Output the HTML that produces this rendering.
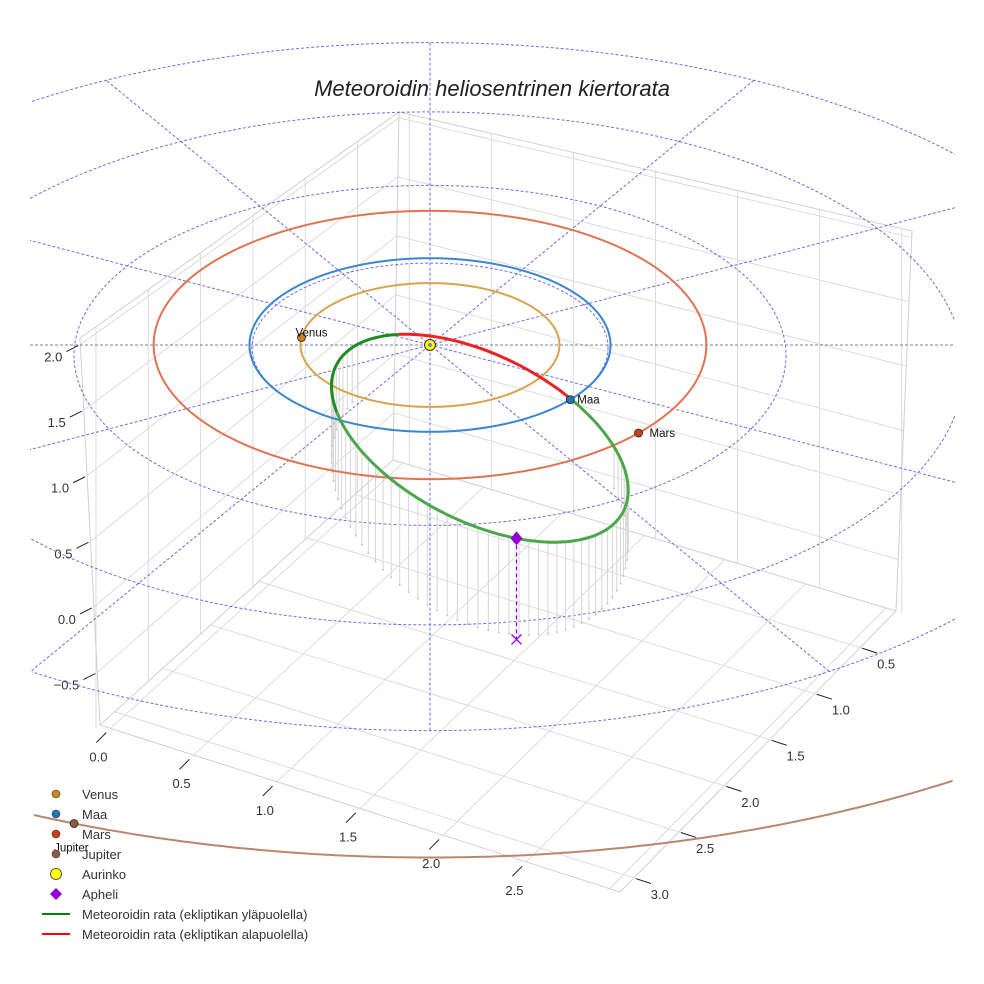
<!DOCTYPE html>
<html><head><meta charset="utf-8">
<style>
html,body{margin:0;padding:0;background:#fff;width:984px;height:984px;overflow:hidden;}
svg{display:block;font-family:"Liberation Sans",sans-serif;}
</style></head>
<body>
<svg id="chart" width="984" height="984" viewBox="0 0 984 984">
<rect x="0" y="0" width="984" height="984" fill="#fff"/>
<g id="box"></g>
<g id="grid"></g>
<g id="marks"></g>
<text x="492" y="96" text-anchor="middle" font-size="22" font-style="italic" fill="#222">Meteoroidin heliosentrinen kiertorata</text>
<g id="legend"></g>
</svg>
<script>
// ---- data ----
const planetNames = ['Venus', 'Maa', 'Mars', 'Jupiter'];
const planetRadii = [0.72, 1.0, 1.52, 5.2];
const planetAngles = [173, -39, -41, -111];
const planetColors = ['#c8861e', '#1f77b4', '#c8401a', '#8c5a3c'];
const orbitColors = ['#d9a44c', '#3a86d0', '#e07450', '#b9876c'];
const ringRadii = [1, 2, 3, 4];
const radialAngles = [29, -29, 60, -60, 90];
const xTicks = [0.0, 0.5, 1.0, 1.5, 2.0, 2.5];
const yTicks = [0.5, 1.0, 1.5, 2.0, 2.5, 3.0];
const zTicks = [-0.5, 0.0, 0.5, 1.0, 1.5, 2.0];
const xTickLabels = ['0.0', '0.5', '1.0', '1.5', '2.0', '2.5'];
const yTickLabels = ['0.5', '1.0', '1.5', '2.0', '2.5', '3.0'];
const zTickLabels = ['\u22120.5', '0.0', '0.5', '1.0', '1.5', '2.0'];
const meteorCenterAU = [0.28, -1.11];
const meteorAxesAU = [0.905, 0.466];
const meteorTilt = [27];
const meteorBelowRange = [222, 292];
const meteorAphelionAngle = [61];
const meteorStemBase = [0.77];
const meteorStemAmp = [0.43];

const NS = 'http://www.w3.org/2000/svg';
function mk(tag, attrs, parent) {
  const e = document.createElementNS(NS, tag);
  for (const k in attrs) e.setAttribute(k, attrs[k]);
  parent.appendChild(e); return e;
}
const SX = 178, SY = 84, CX = 430, CY = 345, XMIN = 30, XMAX = 955;
function geom(r) { return { rx: SX * r + 2.5 * r * r, ry: SY * r + 2.8 * r * r, cy: CY }; }
function ringGeom(r) { return { rx: SX * r, ry: SY * r + 0.5 * r * r, cy: CY + 2.6 * r * r }; }
function lerp(a, b, t) { return [a[0] + (b[0] - a[0]) * t, a[1] + (b[1] - a[1]) * t]; }
function yAtX(a, b, x) { return a[1] + (b[1] - a[1]) * (x - a[0]) / (b[0] - a[0]); }
// ellipse path restricted to visible x range
function ellPath(cx, cy, rx, ry) {
  let d = '', pen = false;
  for (let i = 0; i <= 1440; i++) {
    const a = i / 1440 * 2 * Math.PI;
    const x = cx + rx * Math.cos(a), y = cy + ry * Math.sin(a);
    if (x >= XMIN && x <= XMAX && y >= 0 && y <= 984) {
      d += (pen ? 'L' : 'M') + x.toFixed(1) + ',' + y.toFixed(1); pen = true;
    } else pen = false;
  }
  return d;
}

// ---- axes box ----
const box = document.getElementById('box');
const LT = [80, 338], BT = [399, 112], BB = [393, 460], LB = [100, 725], RT = [912, 231], RB = [896, 611], FR = [620, 892];
const fx = x => 0.02 + 0.32 * x;
const fy = y => 0.05 + 0.328 * (3 - y);
const fz = z => (2.05 - z) / 2.95;
function gl(p, q, name, col, w) {
  const l = mk('line', { x1: p[0], y1: p[1], x2: q[0], y2: q[1], stroke: col || '#dcdcdc', 'stroke-width': w || 1 }, box);
  
  
}
xTicks.concat([3.0]).forEach(x => {
  const t = fx(x);
  gl(lerp(LB, FR, t), lerp(BB, RB, t), 'floor-grid-x');
  const top = lerp(BT, RT, t);
  gl([top[0], yAtX(BB, RB, top[0])], top, 'right-wall-grid-x');
});
yTicks.forEach(y => {
  const t = fy(y);
  gl(lerp(FR, RB, t), lerp(LB, BB, t), 'floor-grid-y');
  const top = lerp(LT, BT, t);
  gl([top[0], yAtX(LB, BB, top[0])], top, 'left-wall-grid-y');
});
zTicks.forEach(z => {
  const t = fz(z);
  const a = lerp(LT, LB, t), b = lerp(BT, BB, t), c = lerp(RT, RB, t);
  gl(a, b, 'left-wall-grid-z'); gl(b, c, 'right-wall-grid-z');
});
[[LT, BT], [BT, RT], [BT, BB], [LT, LB], [RT, RB], [LB, FR], [FR, RB], [LB, BB], [BB, RB]].forEach(s => gl(s[0], s[1], 'box-edge', '#d0d0d0'));
function tl(p, txt, name, anchor) {
  const e = mk('text', { x: p[0], y: p[1], 'font-size': 13, fill: '#333', 'text-anchor': anchor || 'middle' }, box);
  e.textContent = txt;
  
  
}
xTicks.forEach((x, i) => {
  const p = lerp(LB, FR, fx(x)); const d = [-0.7, 0.71];
  gl([p[0] + d[0] * 6, p[1] + d[1] * 6], [p[0] + d[0] * 20, p[1] + d[1] * 20], 'x-tick', '#222');
  tl([p[0] - 12, p[1] + 33], xTickLabels[i], 'x-tick-label');
});
yTicks.forEach((y, i) => {
  const p = lerp(FR, RB, fy(y)); const d = [0.95, 0.31];
  gl([p[0] + d[0] * 2, p[1] + d[1] * 2], [p[0] + d[0] * 18, p[1] + d[1] * 18], 'y-tick', '#222');
  tl([p[0] + 26, p[1] + 21], yTickLabels[i], 'y-tick-label');
});
zTicks.forEach((z, i) => {
  const p = lerp(LT, LB, fz(z));
  gl([p[0] - 2, p[1] + 1], [p[0] - 14, p[1] + 7], 'z-tick', '#222');
  tl([p[0] - 18, p[1] + 17], zTickLabels[i], 'z-tick-label', 'end');
});

// ---- polar grid ----
const grid = document.getElementById('grid');
ringRadii.forEach(r => {
  const g = ringGeom(r);
  const e = mk('path', { d: ellPath(CX, g.cy, g.rx, g.ry), fill: 'none', stroke: '#5555dd', 'stroke-width': 1, 'stroke-dasharray': '3,2', opacity: 0.85 }, grid);
  
  
});
const outer = ringGeom(4);
function rayEnd(dx, dy) {
  // intersect ray from sun with outer ring ellipse, then clamp to visible x range
  const ox = CX - CX, oy = CY - outer.cy;
  const A = dx * dx / (outer.rx * outer.rx) + dy * dy / (outer.ry * outer.ry);
  const B = 2 * (ox * dx / (outer.rx * outer.rx) + oy * dy / (outer.ry * outer.ry));
  const C = ox * ox / (outer.rx * outer.rx) + oy * oy / (outer.ry * outer.ry) - 1;
  let t = (-B + Math.sqrt(B * B - 4 * A * C)) / (2 * A);
  if (dx > 0) t = Math.min(t, (XMAX - CX) / dx);
  if (dx < 0) t = Math.min(t, (XMIN - CX) / dx);
  return [CX + dx * t, CY + dy * t];
}
radialAngles.forEach(a => {
  const c = Math.cos(a * Math.PI / 180), s = Math.sin(a * Math.PI / 180);
  const dx = c, dy = -s * SY / SX;
  const p1 = rayEnd(dx, dy), p2 = rayEnd(-dx, -dy);
  const l = mk('line', { x1: p1[0].toFixed(1), y1: p1[1].toFixed(1), x2: p2[0].toFixed(1), y2: p2[1].toFixed(1), stroke: '#5555dd', 'stroke-width': 1, 'stroke-dasharray': '3,2', opacity: 0.85 }, grid);
  
  
});
const hl = mk('line', { x1: XMIN, y1: CY, x2: XMAX, y2: CY, stroke: '#6666aa', 'stroke-width': 1, 'stroke-dasharray': '3,2', opacity: 0.85 }, grid);



// ---- marks ----
const marks = document.getElementById('marks');
function meteorPoint(tDeg) {
  const t = tDeg * Math.PI / 180, p = meteorTilt[0] * Math.PI / 180;
  const a = meteorAxesAU[0] * SX, b = meteorAxesAU[1] * SX;
  const u = a * Math.cos(t), v = b * Math.sin(t);
  return [CX + meteorCenterAU[0] * SX + u * Math.cos(p) - v * Math.sin(p),
          CY - meteorCenterAU[1] * SY + u * Math.sin(p) + v * Math.cos(p)];
}
function stemLen(tDeg) { return (meteorStemBase[0] + meteorStemAmp[0] * Math.sin(tDeg * Math.PI / 180)) * SY; }
for (let t = -40; t <= 200; t += 4) {
  const p = meteorPoint(t), h = stemLen(t);
  const l = mk('line', { x1: p[0], y1: p[1], x2: p[0], y2: p[1] + h, stroke: '#d6d6d6', 'stroke-width': 1 }, marks);
  
  
  const d = mk('circle', { cx: p[0], cy: p[1] + h, r: 1, fill: '#c4c4c4' }, marks);
  
  
}
planetRadii.forEach((r, i) => {
  const g = geom(r);
  const e = mk('path', { d: ellPath(CX, g.cy, g.rx, g.ry), fill: 'none', stroke: orbitColors[i], 'stroke-width': 2 }, i === 3 ? grid : marks);
  
  
});
function segPath(t0, t1) {
  let d = '';
  for (let t = t0; t <= t1 + 0.01; t += 1) { const p = meteorPoint(t); d += (d ? 'L' : 'M') + p[0].toFixed(1) + ',' + p[1].toFixed(1); }
  return d;
}
const gA = mk('path', { d: segPath(meteorBelowRange[1], 360 + 150), fill: 'none', stroke: '#4ca64c', 'stroke-width': 3 }, marks);


const gB = mk('path', { d: segPath(150, meteorBelowRange[0]), fill: 'none', stroke: '#1f8a1f', 'stroke-width': 3 }, marks);


const rP = mk('path', { d: segPath(meteorBelowRange[0], meteorBelowRange[1]), fill: 'none', stroke: '#ee2222', 'stroke-width': 3 }, marks);


const ap = meteorPoint(meteorAphelionAngle[0]), ah = stemLen(meteorAphelionAngle[0]) * 1.05;
const al = mk('line', { x1: ap[0], y1: ap[1], x2: ap[0], y2: ap[1] + ah, stroke: '#9400d3', 'stroke-width': 1.3, 'stroke-dasharray': '4,3' }, marks);


const ax = mk('path', { d: `M${ap[0]-5},${ap[1]+ah-5}L${ap[0]+5},${ap[1]+ah+5}M${ap[0]+5},${ap[1]+ah-5}L${ap[0]-5},${ap[1]+ah+5}`, stroke: '#9400d3', 'stroke-width': 1.3 }, marks);


const ad = mk('path', { d: `M${ap[0]},${ap[1]-7}L${ap[0]+6},${ap[1]}L${ap[0]},${ap[1]+7}L${ap[0]-6},${ap[1]}Z`, fill: '#9400d3' }, marks);


planetRadii.forEach((r, i) => {
  const g = geom(r), a = planetAngles[i] * Math.PI / 180;
  const px = CX + g.rx * Math.cos(a), py = g.cy - g.ry * Math.sin(a);
  const c = mk('circle', { cx: px, cy: py, r: 4, fill: planetColors[i], stroke: '#222', 'stroke-width': 0.8 }, marks);
  
  
  const offs = [[-6, -1, 'start'], [7, 4, 'start'], [11, 4, 'start'], [-20, 28, 'start']];
  const t = mk('text', { x: px + offs[i][0], y: py + offs[i][1], 'font-size': 11.5, fill: '#111', 'text-anchor': offs[i][2] }, marks);
  t.textContent = planetNames[i];
  
  
});
const sun = mk('circle', { cx: CX, cy: CY, r: 5.5, fill: '#ffff00', stroke: '#333', 'stroke-width': 1 }, marks);


const sunIn = mk('circle', { cx: CX, cy: CY, r: 2, fill: '#7788cc' }, marks);



// ---- legend ----
const leg = document.getElementById('legend');
const legendLabels = ['Venus', 'Maa', 'Mars', 'Jupiter', 'Aurinko', 'Apheli', 'Meteoroidin rata (ekliptikan yläpuolella)', 'Meteoroidin rata (ekliptikan alapuolella)'];
legendLabels.forEach((lab, i) => {
  const y = 794 + i * 20;
  let m;
  if (i < 4) m = mk('circle', { cx: 56, cy: y, r: 4, fill: planetColors[i], stroke: '#333', 'stroke-width': 0.6 }, leg);
  else if (i === 4) m = mk('circle', { cx: 56, cy: y, r: 5.5, fill: '#ffff00', stroke: '#333', 'stroke-width': 0.8 }, leg);
  else if (i === 5) m = mk('path', { d: `M56,${y-6}L62,${y}L56,${y+6}L50,${y}Z`, fill: '#9400d3' }, leg);
  else m = mk('line', { x1: 42, y1: y, x2: 70, y2: y, stroke: i === 6 ? 'green' : 'red', 'stroke-width': 2 }, leg);
  
  
  const t = mk('text', { x: 82, y: y + 5, 'font-size': 13, fill: '#333' }, leg);
  t.textContent = lab;
  
  
});
</script>
</body></html>
